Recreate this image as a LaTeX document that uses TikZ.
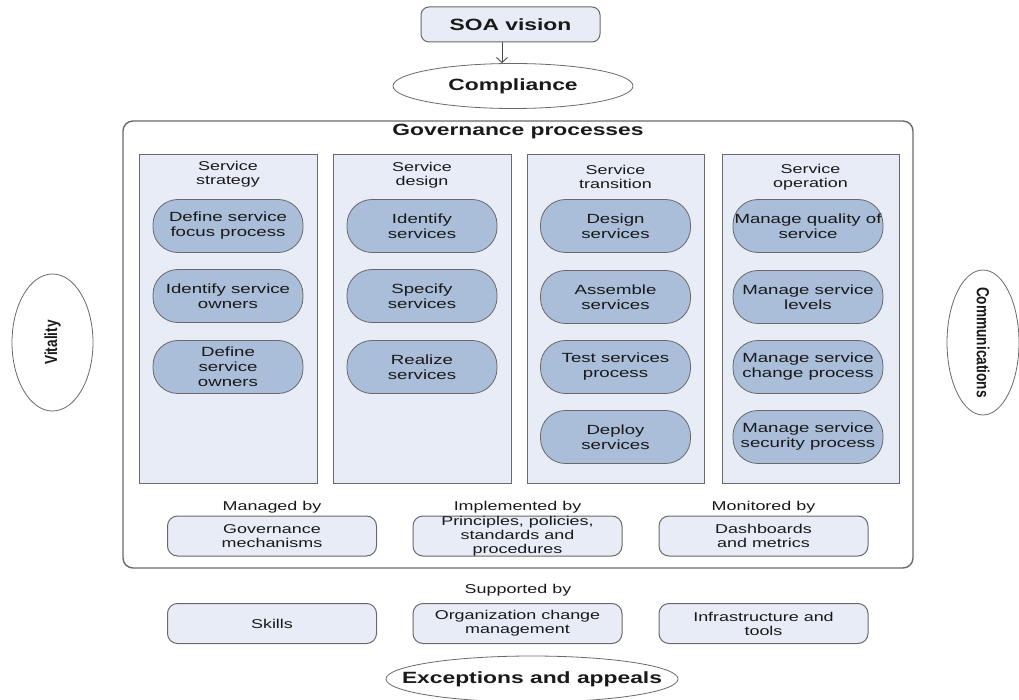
\documentclass[tikz,border=0pt]{standalone}
\usepackage{fontspec}
\setmainfont{Liberation Sans}[FakeStretch=1.4]
\newfontfamily\sidefont{Liberation Sans}[FakeStretch=0.78]
\usetikzlibrary{shapes.geometric,arrows.meta}

\definecolor{edgegray}{RGB}{105,105,105}
\definecolor{panelfill}{RGB}{232,236,246}
\definecolor{procfill}{RGB}{170,189,217}
\definecolor{inkgray}{RGB}{25,25,25}

\begin{document}
\begin{tikzpicture}[x=1pt,y=-1pt,
  every node/.style={text=inkgray},
  bigbold/.style={font=\fontsize{16.3}{19}\selectfont\bfseries},
  body/.style={font=\fontsize{12.8}{14.6}\selectfont},
  topbox/.style={draw=edgegray, fill=panelfill, line width=1pt, rounded corners=8pt,
    minimum width=179pt, minimum height=35pt, inner sep=0pt, bigbold},
  oval/.style={ellipse, draw=edgegray, fill=white, line width=0.8pt, inner sep=0pt},
  govframe/.style={draw=edgegray, fill=white, line width=1.4pt, rounded corners=10pt,
    minimum width=790pt, minimum height=447pt, inner sep=0pt},
  panel/.style={draw=edgegray, fill=panelfill, line width=1pt,
    minimum height=328pt, inner sep=0pt},
  head/.style={body, align=center},
  proc/.style={draw=edgegray, fill=procfill, line width=0.8pt, rounded corners=25pt,
    minimum width=150pt, minimum height=53pt, inner sep=0pt, align=center,
    font=\fontsize{13.3}{15}\selectfont},
  tag/.style={body},
  basebox/.style={draw=edgegray, fill=panelfill, line width=1pt, rounded corners=10pt,
    minimum width=209pt, minimum height=40pt, inner sep=0pt, align=center,
    font=\fontsize{12.8}{14}\selectfont},
  sidetext/.style={font=\sidefont\fontsize{17.5}{20}\selectfont\bfseries},
  link/.style={draw=edgegray!70!black, line width=0.9pt,
    -{Straight Barb[length=5pt,width=11pt]}}
]
\useasboundingbox (0,0) rectangle (1019,700);

% vision and compliance at the top
\node[topbox] (soa) at (510.5,24.5) {SOA vision};
\node[oval, minimum width=240pt, minimum height=45pt] (comp) at (513,86) {};
\node[bigbold] (comptext) at (comp.center) {Compliance};
\draw[link] ([xshift=-8.5pt]soa.south) -- ([xshift=-11pt]comp.north);

% side ellipses
\node[oval, minimum width=81pt, minimum height=137pt] (vit) at (52.5,342.5) {};
\node[sidetext, rotate=90] (vittext) at (vit.center) {Vitality};
\node[oval, minimum width=72pt, minimum height=145pt] (comm) at (983,342.5) {};
\node[sidetext, rotate=-90] (commtext) at (comm.center) {Communications};

% governance frame and its title
\node[govframe] (gov) at (518,344.5) {};
\node[bigbold] (govtitle) at (518,132) {Governance processes};

% the four lifecycle columns
\node[panel, minimum width=178pt] (p1) at (228,319) {};
\node[panel, minimum width=178pt] (p2) at (422,319) {};
\node[panel, minimum width=177pt] (p3) at (615.5,319) {};
\node[panel, minimum width=177pt] (p4) at (810.5,319) {};

\node[head] (h1) at (228,174) {Service\\strategy};
\node[head] (h2) at (422,175) {Service\\design};
\node[head] (h3) at (615.5,177) {Service\\transition};
\node[head] (h4) at (810.5,177) {Service\\operation};

% service strategy
\node[proc] (a1) at (228,226) {Define service\\focus process};
\node[proc] (a2) at (228,296) {Identify service\\owners};
\node[proc] (a3) at (228,367) {Define\\service\\owners};

% service design
\node[proc] (b1) at (422,226) {Identify\\services};
\node[proc] (b2) at (422,296) {Specify\\services};
\node[proc] (b3) at (422,367) {Realize\\services};

% service transition
\node[proc] (c1) at (615.5,226) {Design\\services};
\node[proc] (c2) at (615.5,297) {Assemble\\services};
\node[proc] (c3) at (615.5,367) {Test services\\process};
\node[proc] (c4) at (615.5,437) {Deploy\\services};

% service operation
\node[proc] (d1) at (808,226) {Manage quality of\\service};
\node[proc] (d2) at (808,297) {Manage service\\levels};
\node[proc] (d3) at (808,367) {Manage service\\change process};
\node[proc] (d4) at (808,437) {Manage service\\security process};

% governance means
\node[tag] (t1) at (272,507) {Managed by};
\node[tag] (t2) at (517.5,507) {Implemented by};
\node[tag] (t3) at (763.5,507) {Monitored by};
\node[basebox] (g1) at (272,536) {Governance\\mechanisms};
\node[basebox] (g2) at (517.5,536) {Principles, policies,\\standards and\\procedures};
\node[basebox] (g3) at (763.5,536) {Dashboards\\and metrics};

% support below the frame
\node[tag] (t4) at (518,590) {Supported by};
\node[basebox] (s1) at (272,623.5) {Skills};
\node[basebox] (s2) at (517.5,623.5) {Organization change\\management};
\node[basebox] (s3) at (763.5,623.5) {Infrastructure and\\tools};

\node[oval, minimum width=292pt, minimum height=46pt] (exc) at (532,679) {};
\node[bigbold] (exctext) at (exc.center) {Exceptions and appeals};
\end{tikzpicture}
\end{document}
